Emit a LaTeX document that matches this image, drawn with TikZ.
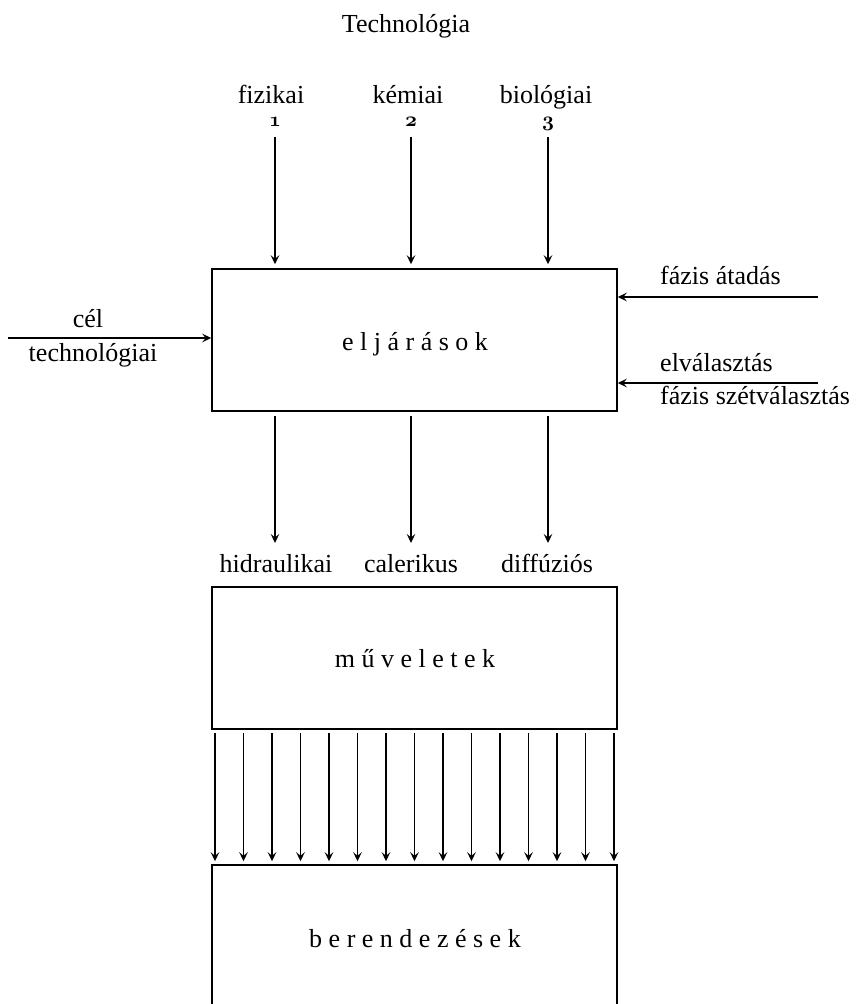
\documentclass[tikz,border=0pt]{standalone}
\usepackage{fontspec}
\setmainfont{Liberation Serif}
\usetikzlibrary{arrows.meta,calc}
\newcommand\lsp{\hspace{6.5pt}}
\newcommand\osn[1]{{\fontsize{22}{26}\usefont{OML}{cmm}{b}{it}#1}}
\begin{document}
\begin{tikzpicture}[x=1pt,y=-1pt,
  every node/.style={font=\fontsize{26}{31}\selectfont, inner sep=0pt},
  txt/.style={anchor=base},
  arr/.style={line width=1.3pt, -{Stealth[length=9pt,width=8.5pt,inset=3.5pt]}},
  boxs/.style={draw, line width=1.5pt, minimum width=405pt, minimum height=142pt},
]
\useasboundingbox (0,0) rectangle (856,1004);

% title and inputs
\node[txt] (tech) at (406,32) {Technológia};
\node[txt] (fiz) at (271,103) {fizikai};
\node[txt] (kem) at (408,103) {kémiai};
\node[txt] (bio) at (546,103) {biológiai};
\node[txt] (n1) at (275,126) {\osn{1}};
\node[txt] (n2) at (411,126) {\osn{2}};
\node[txt] (n3) at (548,126) {\osn{3}};

% boxes
\node[boxs] (proc) at (414.5,340) {};
\node[txt] (proctxt) at (415,350) {e\lsp l\lsp j\lsp á\lsp r\lsp á\lsp s\lsp o\lsp k};
\node[boxs] (ops) at (414.5,658) {};
\node[txt] (opstxt) at (415,667) {m\lsp ű\lsp v\lsp e\lsp l\lsp e\lsp t\lsp e\lsp k};
\node[boxs, minimum height=160pt] (equip) at (414.5,945) {};
\node[txt] (equiptxt) at (415,947) {b\lsp e\lsp r\lsp e\lsp n\lsp d\lsp e\lsp z\lsp é\lsp s\lsp e\lsp k};

% top arrows
\foreach \x [count=\k] in {275,411,548} {
  \coordinate (ta\k) at (\x,137);
  \draw[arr] (ta\k) -- ($(ta\k |- proc.north)+(0,-4)$);
}

% left input
\coordinate (lstart) at (8,338);
\draw[arr] (lstart) -- (lstart -| proc.west);
\node[txt] (cel) at (88,327) {cél};
\node[txt] (celt) at (93,361) {technológiai};

% right inputs
\coordinate (r1) at (818,297);
\coordinate (r2) at (818,383);
\draw[arr] (r1) -- (r1 -| proc.east);
\draw[arr] (r2) -- (r2 -| proc.east);
\node[anchor=base west] (fat) at (660,284) {fázis átadás};
\node[anchor=base west] (elv) at (660,371) {elválasztás};
\node[anchor=base west] (fsz) at (660,404) {fázis szétválasztás};

% outputs of processes
\node[txt] (hid) at (276,572) {hidraulikai};
\node[txt] (cal) at (411,572) {calerikus};
\node[txt] (dif) at (547,572) {diffúziós};
\foreach \x [count=\k] in {275,411,548} {
  \coordinate (ba\k) at (\x,416);
  \draw[arr] (ba\k) -- (\x,543);
}

% many arrows to equipment
\foreach \i in {0,...,14} {
  \coordinate (m\i) at ({215+28.5*\i},733);
  \draw[arr] (m\i) -- ($(m\i |- equip.north)+(0,-3)$);
}
\end{tikzpicture}
\end{document}
